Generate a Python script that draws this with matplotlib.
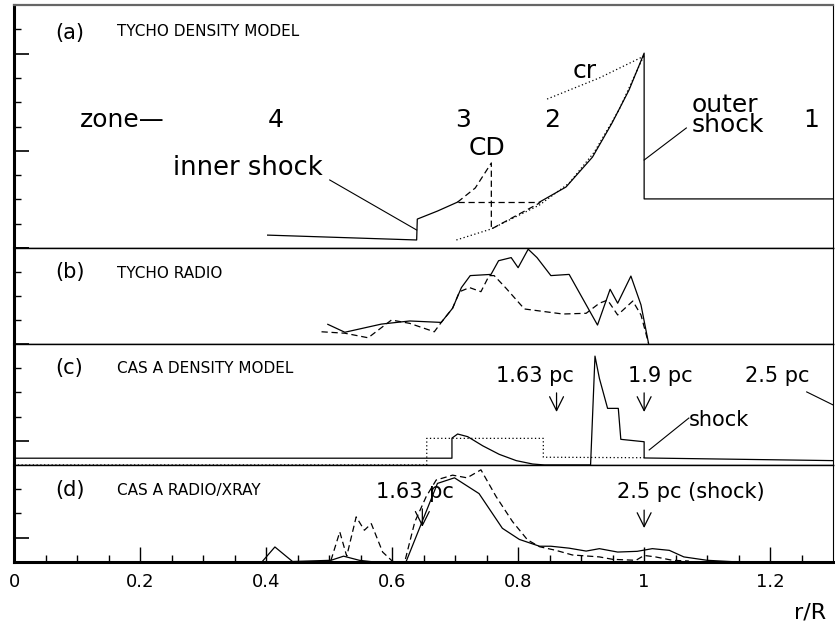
import numpy as np
import matplotlib
matplotlib.use("Agg")
import matplotlib.pyplot as plt
from matplotlib.ticker import FixedLocator, NullFormatter

plt.rcParams['font.family'] = ['DejaVu Sans']

# (a) Tycho density model
a_solid_x = [0.4025, 0.639, 0.640, 0.672, 0.704]
a_solid_y = [0.53, 0.33, 1.19, 1.52, 1.89]
a_solid2_x = [0.834, 0.876, 0.918, 0.949, 0.976, 1.0, 1.0, 1.3]
a_solid2_y = [1.89, 2.51, 3.74, 5.14, 6.50, 8.02, 2.02, 2.02]
a_dot_x = [0.702, 0.757, 0.834, 0.881, 0.921, 0.960, 1.0]
a_dot_y = [0.33, 0.78, 1.77, 2.67, 3.95, 5.68, 7.94]
a_cr_x = [0.846, 0.929, 1.0]
a_cr_y = [6.13, 7.0, 7.9]
a_cd_x = [0.704, 0.732, 0.7575, 0.7575, 0.834]
a_cd_y = [1.89, 2.47, 3.50, 0.78, 1.85]
a_cdh_x = [0.704, 0.834]
a_cdh_y = [1.89, 1.89]

# (b) Tycho radio
b_solid_x = [0.498, 0.525, 0.583, 0.628, 0.678, 0.696, 0.710, 0.724, 0.757, 0.769,
             0.789, 0.800, 0.816, 0.830, 0.852, 0.881, 0.926, 0.946, 0.958, 0.979,
             0.995, 1.007]
b_solid_y = [0.82, 0.49, 0.83, 0.96, 0.90, 1.49, 2.35, 2.85, 2.90, 3.47,
             3.60, 3.18, 3.95, 3.60, 2.85, 2.90, 0.79, 2.28, 1.70, 2.83,
             1.63, 0.03]
b_dash_x = [0.488, 0.525, 0.562, 0.599, 0.628, 0.667, 0.678, 0.696, 0.707, 0.723,
            0.741, 0.754, 0.762, 0.781, 0.810, 0.871, 0.908, 0.929, 0.942, 0.958,
            0.982, 0.995, 1.007]
b_dash_y = [0.51, 0.45, 0.26, 1.0, 0.86, 0.51, 0.90, 1.49, 2.18, 2.35,
            2.18, 2.85, 2.85, 2.32, 1.46, 1.25, 1.28, 1.70, 1.83, 1.21,
            1.79, 1.21, 0.03]

# (c) Cas A density model
c_solid_x = [0.0, 0.695, 0.695, 0.704, 0.720, 0.744, 0.770, 0.797, 0.823, 0.842,
             0.915, 0.922, 0.929, 0.942, 0.959, 0.963, 1.0, 1.0, 1.3]
c_solid_y = [0.28, 0.28, 1.11, 1.28, 1.17, 0.79, 0.44, 0.18, 0.04, 0.0,
             0.0, 4.50, 3.58, 2.34, 2.34, 1.06, 0.96, 0.29, 0.18]
c_dot_x = [0.0, 0.655, 0.655, 0.840, 0.840, 1.0]
c_dot_y = [0.0, 0.0, 1.10, 1.10, 0.32, 0.30]

# (d) Cas A radio / x-ray
d_solid_x = [0.394, 0.414, 0.442, 0.503, 0.523, 0.548, 0.572, 0.622, 0.672, 0.699,
             0.738, 0.775, 0.802, 0.834, 0.852, 0.881, 0.908, 0.929, 0.958, 0.989,
             1.013, 1.040, 1.063, 1.100, 1.15]
d_solid_y = [0.02, 0.62, 0.02, 0.07, 0.24, 0.07, 0.0, 0.0, 3.24, 3.47,
             2.82, 1.39, 0.93, 0.65, 0.65, 0.57, 0.45, 0.55, 0.41, 0.44,
             0.55, 0.48, 0.21, 0.07, 0.0]
d_dash_x = [0.503, 0.517, 0.528, 0.543, 0.556, 0.567, 0.585, 0.601, 0.620, 0.636,
            0.654, 0.670, 0.696, 0.719, 0.741, 0.765, 0.791, 0.815, 0.834, 0.860,
            0.886, 0.929, 0.950, 0.987, 1.0, 1.018, 1.045, 1.071]
d_dash_y = [0.07, 1.24, 0.24, 1.86, 1.31, 1.58, 0.41, 0.02, 0.0, 1.65,
            2.69, 3.38, 3.58, 3.47, 3.80, 2.70, 1.67, 0.91, 0.63, 0.48,
            0.29, 0.21, 0.11, 0.07, 0.27, 0.21, 0.07, 0.04]

x_major = [0, 0.2, 0.4, 0.6, 0.8, 1.0, 1.2]
x_labels = ['0', '0.2', '0.4', '0.6', '0.8', '1', '1.2']

fig = plt.figure(figsize=(8.35, 6.28), dpi=100)
left, width = 0.0168, 0.981
edges = [0.992, 0.6051, 0.4522, 0.2596, 0.1051]
ylims = [10, 4, 5, 4]
y_major = [[0, 4, 8], [0, 4], [1], [1]]
y_minor = [[1, 2, 3, 5, 6, 7, 9], [1, 2, 3], [2, 3, 4], [2, 3]]
axes = []
for i in range(4):
    ax = fig.add_axes([left, edges[i + 1], width, edges[i] - edges[i + 1]])
    ax.set_xlim(0, 1.3)
    ax.set_ylim(0, ylims[i])
    ax.yaxis.set_major_locator(FixedLocator(y_major[i]))
    ax.yaxis.set_minor_locator(FixedLocator(y_minor[i]))
    ax.yaxis.set_major_formatter(NullFormatter())
    ax.tick_params(axis='y', which='major', direction='in', length=11, width=1.2)
    ax.tick_params(axis='y', which='minor', direction='in', length=5, width=1.0)
    ax.spines['left'].set_linewidth(2.2)
    ax.spines['right'].set_linewidth(0.8)
    ax.spines['top'].set_linewidth(1.0)
    ax.spines['bottom'].set_linewidth(1.0)
    if i < 3:
        ax.set_xticks([])
    axes.append(ax)

axa, axb, axc, axd = axes
axa.spines['top'].set_color('#666666')
axa.spines['top'].set_linewidth(1.6)

lw = 0.9
dash = (0, (5, 3))
dot = (0, (1, 2))

# (a)
axa.plot(a_solid_x, a_solid_y, color='k', lw=lw)
axa.plot(a_solid2_x, a_solid2_y, color='k', lw=lw)
axa.plot(a_dot_x, a_dot_y, color='k', lw=lw, linestyle=dot)
axa.plot(a_cr_x, a_cr_y, color='k', lw=lw, linestyle=dot)
axa.plot(a_cd_x, a_cd_y, color='k', lw=lw, linestyle=dash)
axa.plot(a_cdh_x, a_cdh_y, color='k', lw=lw, linestyle=dash)
axa.plot([0.501, 0.639], [2.80, 0.74], color='k', lw=0.8)
axa.plot([1.0, 1.067], [3.62, 4.94], color='k', lw=0.8)

axa.text(0.065, 8.85, '(a)', fontsize=15, va='center')
axa.text(0.163, 8.89, 'TYCHO DENSITY MODEL', fontsize=11, va='center')
axa.text(0.105, 4.98, 'zone\u2014', fontsize=18, va='baseline')
for zx, zt in zip([0.415, 0.713, 0.854, 1.265], ['4', '3', '2', '1']):
    axa.text(zx, 4.98, zt, fontsize=18, va='baseline', ha='center')
axa.text(0.252, 3.0, 'inner shock', fontsize=18.5, va='baseline')
axa.text(0.751, 3.83, 'CD', fontsize=18, va='baseline', ha='center')
axa.text(0.906, 7.0, 'cr', fontsize=18, va='baseline', ha='center')
axa.text(1.076, 4.77, 'outer\nshock', fontsize=18, va='baseline',
         linespacing=0.78)

# (b)
axb.plot(b_solid_x, b_solid_y, color='k', lw=lw)
axb.plot(b_dash_x, b_dash_y, color='k', lw=lw, linestyle=dash)
axb.text(0.065, 3.0, '(b)', fontsize=15, va='center')
axb.text(0.163, 2.95, 'TYCHO RADIO', fontsize=11, va='center')

# (c)
axc.plot(c_solid_x, c_solid_y, color='k', lw=lw, clip_on=False)
axc.plot(c_dot_x, c_dot_y, color='k', lw=lw, linestyle=dot)
axc.plot([1.008, 1.071], [0.62, 1.94], color='k', lw=0.8)
axc.plot([1.258, 1.3], [3.02, 2.48], color='k', lw=0.8)
axc.text(0.065, 4.0, '(c)', fontsize=15, va='center')
axc.text(0.163, 3.98, 'CAS A DENSITY MODEL', fontsize=11, va='center')
axc.text(0.826, 3.68, '1.63 pc', fontsize=15, va='center', ha='center')
axc.text(1.025, 3.68, '1.9 pc', fontsize=15, va='center', ha='center')
axc.text(1.212, 3.68, '2.5 pc', fontsize=15, va='center', ha='center')
axc.text(1.071, 1.86, 'shock', fontsize=15, va='center')
arrow = dict(arrowstyle='->,head_width=0.25,head_length=0.5', lw=0.9,
             color='k', mutation_scale=20, shrinkA=0, shrinkB=0)
axc.annotate('', xy=(0.861, 2.19), xytext=(0.861, 2.98), arrowprops=arrow)
axc.annotate('', xy=(1.0, 2.19), xytext=(1.0, 2.98), arrowprops=arrow)

# (d)
axd.plot(d_solid_x, d_solid_y, color='k', lw=lw)
axd.plot(d_dash_x, d_dash_y, color='k', lw=lw, linestyle=dash)
axd.text(0.065, 2.97, '(d)', fontsize=15, va='center')
axd.text(0.163, 2.95, 'CAS A RADIO/XRAY', fontsize=11, va='center')
axd.text(0.637, 2.89, '1.63 pc', fontsize=15, va='center', ha='center')
axd.text(1.074, 2.89, '2.5 pc (shock)', fontsize=15, va='center', ha='center')
axd.annotate('', xy=(0.648, 1.45), xytext=(0.648, 2.19), arrowprops=arrow)
axd.annotate('', xy=(1.0, 1.40), xytext=(1.0, 2.14), arrowprops=arrow)

axd.spines['bottom'].set_linewidth(2.2)
axd.set_xticks(x_major)
axd.set_xticklabels(x_labels, fontsize=13)
axd.set_xticks(np.arange(0.05, 1.3, 0.05), minor=True)
axd.tick_params(axis='x', which='major', direction='in', length=11, width=1.0, pad=8)
axd.tick_params(axis='x', which='minor', direction='in', length=5, width=1.0)
fig.text(0.97, 0.008, 'r/R', fontsize=16, ha='center', va='bottom')

fig.savefig('out.png', dpi=100)
